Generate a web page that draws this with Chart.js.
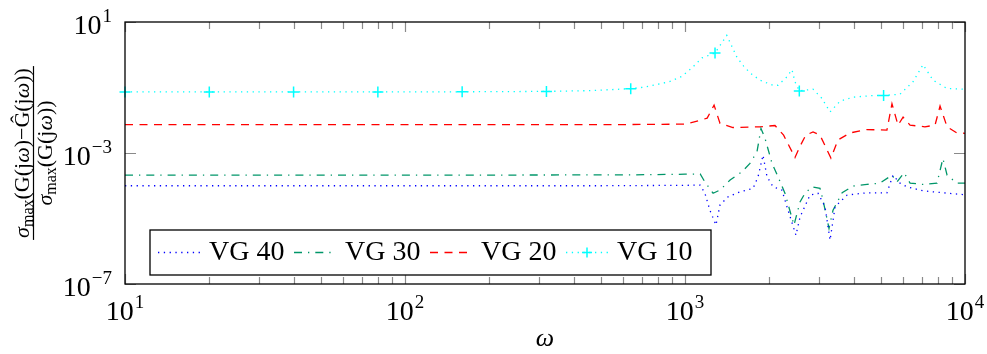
<!DOCTYPE html>
<html>
<head>
<meta charset="utf-8">
<script src="https://cdn.jsdelivr.net/npm/chart.js@4.4.1/dist/chart.umd.min.js"></script>
<style>
  html, body { margin: 0; padding: 0; background: #fff; }
  canvas { display: block; }
</style>
</head>
<body>
<canvas id="chart" width="987" height="354"></canvas>
<script>
// frequency grids (omega) and relative error values
const w40 = [10, 100, 500, 1000, 1133, 1178, 1227, 1290, 1334, 1425, 1572, 1750, 1824, 1899, 1963, 2062, 2219, 2312, 2490, 2575, 2795, 2985, 3162, 3297, 3436, 3793, 4467, 5262, 5530, 5860, 6205, 7080, 8340, 10000];
const g40 = [1.0e-4, 1.0e-4, 1.0e-4, 1.03e-4, 1.05e-4, 5.9e-5, 1.8e-5, 6.3e-6, 2.6e-5, 4.6e-5, 6.5e-5, 8.3e-5, 1.9e-4, 8.6e-4, 1.9e-4, 9.3e-5, 7.4e-5, 2.3e-5, 3.1e-6, 1.1e-5, 5.2e-5, 5.9e-5, 2.3e-5, 2.2e-6, 2.3e-5, 5.2e-5, 6.1e-5, 6.1e-5, 2.1e-4, 1.2e-4, 9.3e-5, 7.0e-5, 6.1e-5, 5.3e-5];

const w30 = [10, 100, 640, 1000, 1133, 1178, 1260, 1334, 1449, 1599, 1706, 1808, 1868, 1931, 2046, 2147, 2275, 2450, 2575, 2683, 2842, 3035, 3110, 3268, 3378, 3641, 3981, 4467, 4966, 5485, 5715, 6060, 6365, 7080, 7943, 8340, 8630, 9355, 10000];
const g30 = [2.1e-4, 2.1e-4, 2.15e-4, 2.25e-4, 2.3e-4, 1.3e-4, 5.9e-5, 7.4e-5, 1.5e-4, 2.7e-4, 4.8e-4, 1.1e-3, 5.6e-3, 2.8e-3, 4.8e-4, 1.9e-4, 5.9e-5, 6.3e-6, 3.2e-5, 5.9e-5, 9.3e-5, 8.3e-5, 3.7e-5, 5.0e-6, 1.8e-5, 6.1e-5, 9.8e-5, 1.1e-4, 1.2e-4, 2.1e-4, 1.3e-4, 2.5e-4, 1.2e-4, 1.1e-4, 1.2e-4, 6.8e-4, 2.1e-4, 1.2e-4, 1.2e-4];

const w20 = [10, 100, 640, 1000, 1133, 1200, 1270, 1334, 1483, 1853, 2096, 2250, 2471, 2575, 2700, 2866, 3035, 3320, 3518, 3883, 4467, 5262, 5485, 5764, 6010, 6365, 7190, 7815, 8145, 8630, 9355, 10000];
const g20 = [7.4e-3, 7.4e-3, 7.4e-3, 7.6e-3, 1.0e-2, 1.16e-2, 2.9e-2, 8.0e-3, 6.0e-3, 6.3e-3, 6.9e-3, 3.5e-3, 7.3e-4, 1.6e-3, 3.5e-3, 4.4e-3, 3.5e-3, 7.0e-4, 2.5e-3, 4.1e-3, 5.2e-3, 5.0e-3, 3.2e-2, 7.1e-3, 1.24e-2, 7.1e-3, 6.3e-3, 7.1e-3, 2.7e-2, 6.3e-3, 4.1e-3, 4.0e-3];

const w10 = [10, 20, 40, 80, 160, 320, 450, 640, 710, 800, 880, 975, 1060, 1150, 1280, 1410, 1535, 1620, 1706, 1853, 2062, 2147, 2312, 2410, 2471, 2560, 2866, 3080, 3297, 3580, 3980, 4690, 5120, 5860, 6520, 7080, 7690, 8630, 9840, 10000];
const g10 = [0.0733, 0.0733, 0.0733, 0.0735, 0.074, 0.076, 0.080, 0.092, 0.102, 0.125, 0.150, 0.22, 0.40, 0.80, 1.13, 3.9, 0.82, 0.45, 0.28, 0.167, 0.117, 0.117, 0.21, 0.35, 0.148, 0.0787, 0.0887, 0.0471, 0.018, 0.0382, 0.0506, 0.0569, 0.0569, 0.0624, 0.15, 0.50, 0.167, 0.093, 0.0887, 0.088];
const marks10 = [10, 20, 40, 80, 160, 320, 640, 1280, 2560, 5120];

const labels = ['VG 40', 'VG 30', 'VG 20', 'VG 10'];
const xMajor = [10, 100, 1000, 10000];
const yMajor = [1e-7, 1e-3, 1e1];

const SERIF = "'Liberation Serif', 'DejaVu Serif', serif";
const pts = (w, g) => w.map((x, i) => ({ x, y: g[i] }));

// 2..9 x decade minor ticks
const xMinor = [];
xMajor.slice(0, -1).forEach(d => { for (let m = 2; m <= 9; m++) xMinor.push(m * d); });

function powLabel(ctx, exp, x, baseline, align) {
  const sup = String(exp).replace('-', '\u2212');
  ctx.font = '28px ' + SERIF;
  const wb = ctx.measureText('10').width;
  ctx.font = '19px ' + SERIF;
  const ws = ctx.measureText(sup).width;
  const w = wb + 1 + ws;
  const x0 = align === 'right' ? x - w : x - w / 2;
  ctx.textAlign = 'left';
  ctx.textBaseline = 'alphabetic';
  ctx.font = '28px ' + SERIF;
  ctx.fillText('10', x0, baseline);
  ctx.font = '19px ' + SERIF;
  ctx.fillText(sup, x0 + wb + 1, baseline - 12);
}

// draws a run of [text, font, dy] pieces starting at x, returns width
function runText(ctx, parts, x, y, measureOnly) {
  let cx = x;
  parts.forEach(([t, f, dy]) => {
    ctx.font = f;
    if (!measureOnly) ctx.fillText(t, cx, y + (dy || 0));
    cx += ctx.measureText(t).width;
  });
  return cx - x;
}

const frame = {
  id: 'frame',
  afterDraw(chart) {
    const { ctx, chartArea: a, scales: { x, y } } = chart;
    ctx.save();

    // inward tick marks, mirrored on top / right
    ctx.strokeStyle = '#8a8a8a';
    ctx.lineWidth = 1.2;
    ctx.beginPath();
    const xt = (v, len) => {
      const px = Math.round(x.getPixelForValue(v)) + 0.5;
      ctx.moveTo(px, a.bottom); ctx.lineTo(px, a.bottom - len);
      ctx.moveTo(px, a.top); ctx.lineTo(px, a.top + len);
    };
    xMinor.forEach(v => xt(v, 7));
    xMajor.forEach(v => xt(v, 10));
    yMajor.forEach(v => {
      const py = Math.round(y.getPixelForValue(v)) + 0.5;
      ctx.moveTo(a.left, py); ctx.lineTo(a.left + 11, py);
      ctx.moveTo(a.right, py); ctx.lineTo(a.right - 11, py);
    });
    ctx.stroke();

    ctx.strokeStyle = '#000';
    ctx.lineWidth = 1.3;
    ctx.strokeRect(a.left, a.top, a.right - a.left, a.bottom - a.top);

    // tick labels
    ctx.fillStyle = '#000';
    xMajor.forEach(v => powLabel(ctx, Math.round(Math.log10(v)), x.getPixelForValue(v), a.bottom + 36, 'center'));
    yMajor.forEach(v => powLabel(ctx, Math.round(Math.log10(v)), a.left - 13, y.getPixelForValue(v) + 12, 'right'));

    // x title
    ctx.font = 'italic 26px ' + SERIF;
    ctx.textAlign = 'center';
    ctx.fillText('\u03c9', (a.left + a.right) / 2, a.bottom + 62);

    // y title: fraction, rotated
    const F = '22px ' + SERIF, FI = 'italic 22px ' + SERIF, FS = '16px ' + SERIF;
    const num = [['\u03c3', FI], ['max', FS, 4], ['(G(j', F], ['\u03c9', FI], [')\u2212\u011c(j', F], ['\u03c9', FI], ['))', F]];
    const den = [['\u03c3', FI], ['max', FS, 4], ['(G(j', F], ['\u03c9', FI], ['))', F]];
    ctx.save();
    ctx.translate(33, (a.top + a.bottom) / 2);
    ctx.rotate(-Math.PI / 2);
    ctx.textAlign = 'left';
    const wn = runText(ctx, num, 0, 0, true);
    const wd = runText(ctx, den, 0, 0, true);
    runText(ctx, num, -wn / 2, -4);
    runText(ctx, den, -wd / 2, 19);
    ctx.strokeStyle = '#000';
    ctx.lineWidth = 1.2;
    ctx.beginPath();
    ctx.moveTo(-wn / 2 - 2, 0.5); ctx.lineTo(wn / 2 + 2, 0.5);
    ctx.stroke();
    ctx.restore();

    // legend box inside the plot, bottom left
    const lx = a.left + 25, ly = a.bottom - 54, lw = 561, lh = 45;
    ctx.fillStyle = '#fff';
    ctx.fillRect(lx, ly, lw, lh);
    ctx.strokeStyle = '#000';
    ctx.lineWidth = 1.3;
    ctx.strokeRect(lx, ly, lw, lh);
    const mid = ly + 22.5;
    chart.data.datasets.forEach((ds, i) => {
      const sx = lx + 8 + i * 136;
      ctx.save();
      ctx.strokeStyle = ds.borderColor;
      ctx.lineWidth = ds.borderWidth;
      ctx.setLineDash(ds.borderDash);
      ctx.beginPath();
      ctx.moveTo(sx, mid); ctx.lineTo(sx + 42, mid);
      ctx.stroke();
      if (ds.legendMark) {
        ctx.setLineDash([]);
        ctx.lineWidth = 1.5;
        ctx.beginPath();
        ctx.moveTo(sx + 21 - 5, mid); ctx.lineTo(sx + 21 + 5, mid);
        ctx.moveTo(sx + 21, mid - 5); ctx.lineTo(sx + 21, mid + 5);
        ctx.stroke();
      }
      ctx.restore();
      ctx.fillStyle = '#000';
      ctx.font = '28px ' + SERIF;
      ctx.textAlign = 'left';
      ctx.fillText(ds.label, sx + 51, ly + 30);
    });

    ctx.restore();
  }
};

const hidden = { ticks: { display: false }, grid: { display: false, drawTicks: false, tickLength: 0 }, border: { display: false } };

new Chart(document.getElementById('chart'), {
  type: 'line',
  data: {
    datasets: [
      { label: labels[0], data: pts(w40, g40), borderColor: '#0000ff', borderWidth: 1.3, borderDash: [1.3, 4.5], pointRadius: 0 },
      { label: labels[1], data: pts(w30, g30), borderColor: 'rgb(0,150,105)', borderWidth: 1.3, borderDash: [8, 6, 1.3, 6], pointRadius: 0 },
      { label: labels[2], data: pts(w20, g20), borderColor: '#ff0000', borderWidth: 1.3, borderDash: [8, 6.5], pointRadius: 0 },
      {
        label: labels[3], data: pts(w10, g10), borderColor: '#00ffff', borderWidth: 1.3, borderDash: [1.3, 4.5],
        pointStyle: 'cross', pointBorderColor: '#00ffff', pointBorderWidth: 1.5,
        pointRadius: c => marks10.includes(w10[c.dataIndex]) ? 5.5 : 0,
        clip: 8, legendMark: true
      }
    ]
  },
  options: {
    responsive: false,
    animation: false,
    devicePixelRatio: 1,
    layout: { autoPadding: false, padding: { left: 125, right: 22, top: 22, bottom: 70 } },
    plugins: { legend: { display: false }, tooltip: { enabled: false } },
    elements: { line: { tension: 0, fill: false } },
    scales: {
      x: { type: 'logarithmic', min: 10, max: 10000, ...hidden },
      y: { type: 'logarithmic', min: 1e-7, max: 10, ...hidden }
    }
  },
  plugins: [frame]
});
</script>
</body>
</html>
